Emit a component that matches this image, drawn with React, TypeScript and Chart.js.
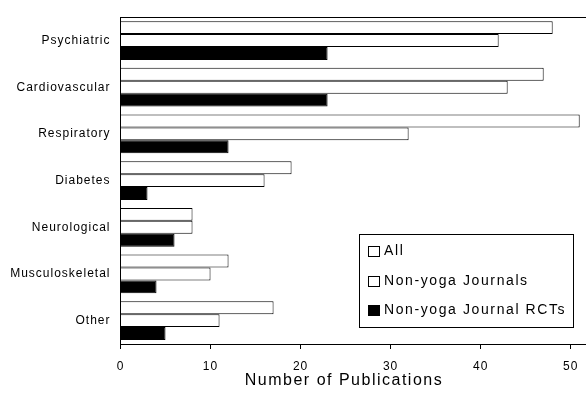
import React, { useEffect, useRef } from "react";
import { Chart, registerables } from "chart.js";

Chart.register(...registerables);

const categories = [
  "Psychiatric",
  "Cardiovascular",
  "Respiratory",
  "Diabetes",
  "Neurological",
  "Musculoskeletal",
  "Other",
];
const allPubs = [48, 47, 51, 19, 8, 12, 17];
const nonYogaJournals = [42, 43, 32, 16, 8, 10, 11];
const nonYogaRCTs = [23, 23, 12, 3, 6, 4, 5];
const seriesLabels = ["All", "Non-yoga Journals", "Non-yoga Journal RCTs"];
const xTickValues = [0, 10, 20, 30, 40, 50];
const xTitle = "Number of Publications";

const FONT = "'Liberation Sans', Arial, sans-serif";

const spacingPlugin = {
  id: "spacing",
  beforeDraw(chart: any) {
    chart.ctx.letterSpacing = "1px";
  },
};

const framePlugin = {
  id: "frame",
  afterDraw(chart: any) {
    const { ctx, chartArea } = chart;
    ctx.save();
    ctx.letterSpacing = "0px";
    ctx.strokeStyle = "#000";
    ctx.lineWidth = 1;
    ctx.beginPath();
    ctx.moveTo(chartArea.left, Math.round(chartArea.top) + 0.5);
    ctx.lineTo(chart.width, Math.round(chartArea.top) + 0.5);
    ctx.stroke();

    // axis title
    ctx.font = `16px ${FONT}`;
    (ctx as any).letterSpacing = "1.5px";
    ctx.fillStyle = "#000";
    ctx.textAlign = "center";
    ctx.textBaseline = "alphabetic";
    ctx.fillText(xTitle, 344, 385);

    // legend box
    const bx = 359.5, by = 234.5, bw = 214, bh = 93;
    ctx.fillStyle = "#fff";
    ctx.fillRect(bx, by, bw, bh);
    ctx.strokeRect(bx, by, bw, bh);
    const rows = [251.5, 281, 310.5];
    ctx.font = `14px ${FONT}`;
    ctx.textBaseline = "middle";
    ctx.textAlign = "left";
    (ctx as any).letterSpacing = "1.6px";
    chart.data.datasets.forEach((ds: any, i: number) => {
      const cy = rows[i];
      ctx.fillStyle = ds.backgroundColor;
      ctx.fillRect(368.5, Math.round(cy - 5.5) + 0.5, 11, 10);
      ctx.strokeStyle = "#000";
      ctx.strokeRect(368.5, Math.round(cy - 5.5) + 0.5, 11, 10);
      ctx.fillStyle = "#000";
      ctx.fillText(ds.label, 384, cy);
    });
    ctx.restore();
  },
};

export default function App() {
  const ref = useRef<HTMLCanvasElement>(null);
  useEffect(() => {
    if (!ref.current) return;
    const chart = new Chart(ref.current, {
      type: "bar",
      data: {
        labels: categories,
        datasets: [
          {
            label: seriesLabels[0],
            data: allPubs,
            backgroundColor: "#ffffff",
            borderColor: "#000000",
            borderWidth: 1,
          },
          {
            label: seriesLabels[1],
            data: nonYogaJournals,
            backgroundColor: "#ffffff",
            borderColor: "#000000",
            borderWidth: 1,
          },
          {
            label: seriesLabels[2],
            data: nonYogaRCTs,
            backgroundColor: "#000000",
            borderColor: "#000000",
            borderWidth: 1,
          },
        ],
      },
      options: {
        indexAxis: "y",
        responsive: false,
        animation: false,
        devicePixelRatio: 1,
        layout: { padding: { top: 15, right: 1.3, left: 0, bottom: 0 } },
        datasets: {
          bar: { categoryPercentage: 39 / 47, barPercentage: 1.0, inflateAmount: 0 },
        },
        plugins: {
          legend: { display: false },
          tooltip: { enabled: false },
        },
        scales: {
          x: {
            type: "linear",
            min: 0,
            max: 52,
            afterFit: (s: any) => {
              s.height = 52;
            },
            afterBuildTicks: (s: any) => {
              s.ticks = xTickValues.map((v) => ({ value: v }));
            },
            grid: {
              display: true,
              drawOnChartArea: false,
              drawTicks: true,
              tickLength: 5,
              color: "#000",
            },
            border: { display: true, color: "#000", width: 1 },
            ticks: {
              color: "#000",
              padding: 10,
              font: { family: FONT, size: 12 },
              maxRotation: 0,
            },
            title: { display: false },
          },
          y: {
            type: "category",
            afterFit: (s: any) => {
              s.width = 120.5;
            },
            grid: { display: false, drawTicks: false },
            border: { display: true, color: "#000", width: 1 },
            ticks: {
              color: "#000",
              padding: 10,
              font: { family: FONT, size: 12 },
            },
          },
        },
      },
      plugins: [spacingPlugin, framePlugin],
    } as any);
    return () => chart.destroy();
  }, []);
  return (
    <div
      style={{
        position: "absolute",
        left: 0,
        top: 0,
        width: 586,
        height: 396,
        overflow: "hidden",
        background: "#fff",
      }}
    >
      <canvas ref={ref} width={590} height={396} />
    </div>
  );
}
